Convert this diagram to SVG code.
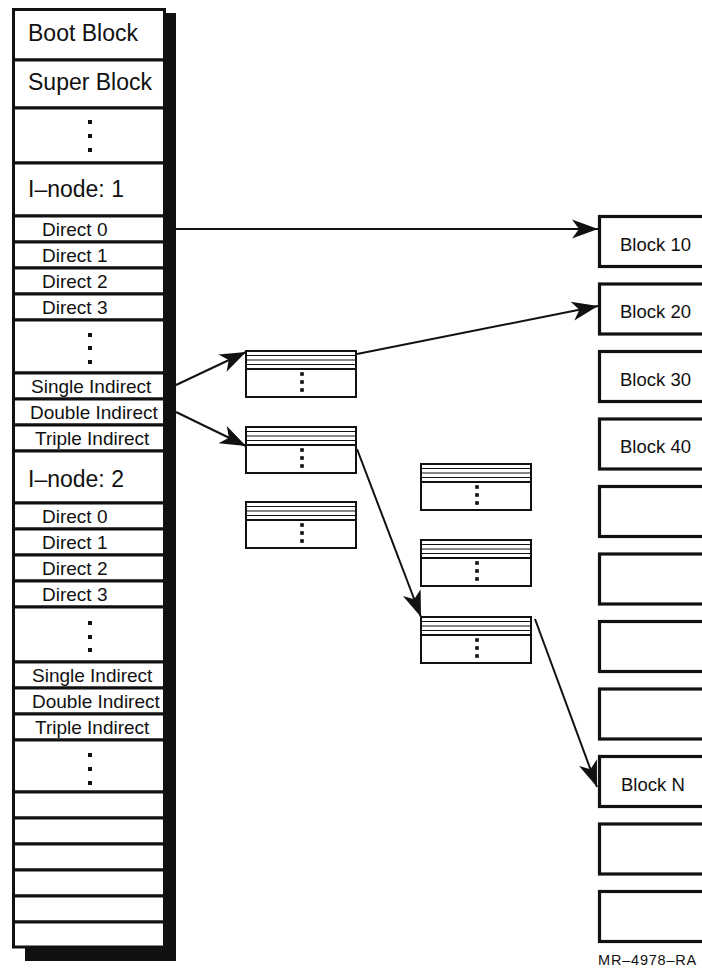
<svg xmlns="http://www.w3.org/2000/svg" width="702" height="968" viewBox="0 0 702 968">
<style>
  .lbl{font-family:"Liberation Sans",Arial,Helvetica,sans-serif;fill:#111}
  .big{font-size:23px}
  .sm{font-size:19px}
  .blk{font-size:18.5px}
  .row{fill:#fff;stroke:#111;stroke-width:3}
  .dot{fill:#111}
  .block{fill:#fff;stroke:#111;stroke-width:3.2}
  .conn{stroke:#111;stroke-width:2;fill:none;marker-end:url(#ah)}
  .thin{stroke:#111;stroke-width:1.2}
  .thick{stroke:#111;stroke-width:2.2}
</style>
<defs>
  <marker id="ah" markerUnits="userSpaceOnUse" markerWidth="30" markerHeight="24" viewBox="-28 -12 30 24" refX="0" refY="0" orient="auto">
    <path d="M0,0 L-26,-9.5 L-19,0 L-26,9.5 Z" fill="#111"/>
  </marker>
  <g id="tbl">
    <rect x="0" y="0" width="110" height="46" fill="#fff" stroke="#111" stroke-width="2"/>
    <line class="thin" x1="0" y1="4.5" x2="110" y2="4.5"/>
    <line class="thin" x1="0" y1="9" x2="110" y2="9"/>
    <line class="thin" x1="0" y1="13.5" x2="110" y2="13.5"/>
    <line class="thick" x1="0" y1="18" x2="110" y2="18"/>
    <rect class="dot" x="54.2" y="21.2" width="3.6" height="3.6"/>
    <rect class="dot" x="54.2" y="29.2" width="3.6" height="3.6"/>
    <rect class="dot" x="54.2" y="37.2" width="3.6" height="3.6"/>
  </g>
</defs>
<rect width="702" height="968" fill="#fff"/>

<g id="column-shadow">
  <rect x="164" y="13" width="12" height="948" fill="#111"/>
  <rect x="25" y="946" width="151" height="15" fill="#111"/>
</g>

<g id="disk-column">
  <g id="row-boot"><rect class="row" x="13.5" y="9.5" width="151" height="50.5"/><text class="lbl big" x="28" y="40.5">Boot Block</text></g>
  <g id="row-super"><rect class="row" x="13.5" y="60" width="151" height="48"/><text class="lbl big" x="28" y="90">Super Block</text></g>
  <g id="row-dots1"><rect class="row" x="13.5" y="108" width="151" height="55"/>
    <rect class="dot" x="88" y="120" width="4" height="4"/><rect class="dot" x="88" y="134" width="4" height="4"/><rect class="dot" x="88" y="148" width="4" height="4"/></g>
  <g id="row-inode1"><rect class="row" x="13.5" y="163" width="151" height="53"/><text class="lbl big" x="28" y="197">I–node: 1</text></g>
  <g id="i1-direct0"><rect class="row" x="13.5" y="216" width="151" height="26"/><text class="lbl sm" x="42" y="236">Direct 0</text></g>
  <g id="i1-direct1"><rect class="row" x="13.5" y="242" width="151" height="26"/><text class="lbl sm" x="42" y="262">Direct 1</text></g>
  <g id="i1-direct2"><rect class="row" x="13.5" y="268" width="151" height="26"/><text class="lbl sm" x="42" y="288">Direct 2</text></g>
  <g id="i1-direct3"><rect class="row" x="13.5" y="294" width="151" height="26"/><text class="lbl sm" x="42" y="314">Direct 3</text></g>
  <g id="row-dots2"><rect class="row" x="13.5" y="320" width="151" height="53"/>
    <rect class="dot" x="88" y="333" width="4" height="4"/><rect class="dot" x="88" y="346" width="4" height="4"/><rect class="dot" x="88" y="360" width="4" height="4"/></g>
  <g id="i1-single"><rect class="row" x="13.5" y="373" width="151" height="26"/><text class="lbl sm" x="31" y="393">Single Indirect</text></g>
  <g id="i1-double"><rect class="row" x="13.5" y="399" width="151" height="26"/><text class="lbl sm" x="30" y="419">Double Indirect</text></g>
  <g id="i1-triple"><rect class="row" x="13.5" y="425" width="151" height="26"/><text class="lbl sm" x="35" y="445">Triple Indirect</text></g>
  <g id="row-inode2"><rect class="row" x="13.5" y="451" width="151" height="52"/><text class="lbl big" x="28" y="487">I–node: 2</text></g>
  <g id="i2-direct0"><rect class="row" x="13.5" y="503" width="151" height="26"/><text class="lbl sm" x="42" y="523">Direct 0</text></g>
  <g id="i2-direct1"><rect class="row" x="13.5" y="529" width="151" height="26"/><text class="lbl sm" x="42" y="549">Direct 1</text></g>
  <g id="i2-direct2"><rect class="row" x="13.5" y="555" width="151" height="26"/><text class="lbl sm" x="42" y="575">Direct 2</text></g>
  <g id="i2-direct3"><rect class="row" x="13.5" y="581" width="151" height="26"/><text class="lbl sm" x="42" y="601">Direct 3</text></g>
  <g id="row-dots3"><rect class="row" x="13.5" y="607" width="151" height="55"/>
    <rect class="dot" x="88" y="621" width="4" height="4"/><rect class="dot" x="88" y="635" width="4" height="4"/><rect class="dot" x="88" y="648" width="4" height="4"/></g>
  <g id="i2-single"><rect class="row" x="13.5" y="662" width="151" height="26"/><text class="lbl sm" x="32" y="682">Single Indirect</text></g>
  <g id="i2-double"><rect class="row" x="13.5" y="688" width="151" height="26"/><text class="lbl sm" x="32" y="708">Double Indirect</text></g>
  <g id="i2-triple"><rect class="row" x="13.5" y="714" width="151" height="26"/><text class="lbl sm" x="35" y="734">Triple Indirect</text></g>
  <g id="row-dots4"><rect class="row" x="13.5" y="740" width="151" height="52"/>
    <rect class="dot" x="88" y="753" width="4" height="4"/><rect class="dot" x="88" y="767" width="4" height="4"/><rect class="dot" x="88" y="781" width="4" height="4"/></g>
  <g id="row-e1"><rect class="row" x="13.5" y="792" width="151" height="26"/></g>
  <g id="row-e2"><rect class="row" x="13.5" y="818" width="151" height="26"/></g>
  <g id="row-e3"><rect class="row" x="13.5" y="844" width="151" height="26"/></g>
  <g id="row-e4"><rect class="row" x="13.5" y="870" width="151" height="26"/></g>
  <g id="row-e5"><rect class="row" x="13.5" y="896" width="151" height="26"/></g>
  <g id="row-e6"><rect class="row" x="13.5" y="922" width="151" height="25"/></g>
</g>

<g id="table-1"><use href="#tbl" x="246" y="351"/></g>
<g id="table-2"><use href="#tbl" x="246" y="427"/></g>
<g id="table-3"><use href="#tbl" x="246" y="502"/></g>
<g id="table-a"><use href="#tbl" x="421" y="464"/></g>
<g id="table-b"><use href="#tbl" x="421" y="540"/></g>
<g id="table-c"><use href="#tbl" x="421" y="617"/></g>

<g id="block-10"><rect class="block" x="599.5" y="216.5" width="120" height="50"/><text class="lbl blk" x="620" y="250.5">Block 10</text></g>
<g id="block-20"><rect class="block" x="599.5" y="284" width="120" height="50"/><text class="lbl blk" x="620" y="318">Block 20</text></g>
<g id="block-30"><rect class="block" x="599.5" y="351.5" width="120" height="50"/><text class="lbl blk" x="620" y="385.5">Block 30</text></g>
<g id="block-40"><rect class="block" x="599.5" y="419" width="120" height="50"/><text class="lbl blk" x="620" y="453">Block 40</text></g>
<g id="block-5"><rect class="block" x="599.5" y="486.5" width="120" height="50"/></g>
<g id="block-6"><rect class="block" x="599.5" y="554" width="120" height="50"/></g>
<g id="block-7"><rect class="block" x="599.5" y="621.5" width="120" height="50"/></g>
<g id="block-8"><rect class="block" x="599.5" y="689" width="120" height="50"/></g>
<g id="block-n"><rect class="block" x="599.5" y="756.5" width="120" height="50"/><text class="lbl blk" x="621" y="790.5">Block N</text></g>
<g id="block-10b"><rect class="block" x="599.5" y="824" width="120" height="50"/></g>
<g id="block-11"><rect class="block" x="599.5" y="891.5" width="120" height="50"/></g>

<g id="connectors">
  <path class="conn" d="M176,229 L598,229"/>
  <path class="conn" d="M357,354 L598,306"/>
  <path class="conn" d="M176,385 L246,352"/>
  <path class="conn" d="M176,412 L246,446"/>
  <path class="conn" d="M357,449 L421,617"/>
  <path class="conn" d="M535,619 L597,787"/>
</g>

<text class="lbl" x="598" y="965" font-size="14.5" letter-spacing="0.8">MR–4978–RA</text>
</svg>
